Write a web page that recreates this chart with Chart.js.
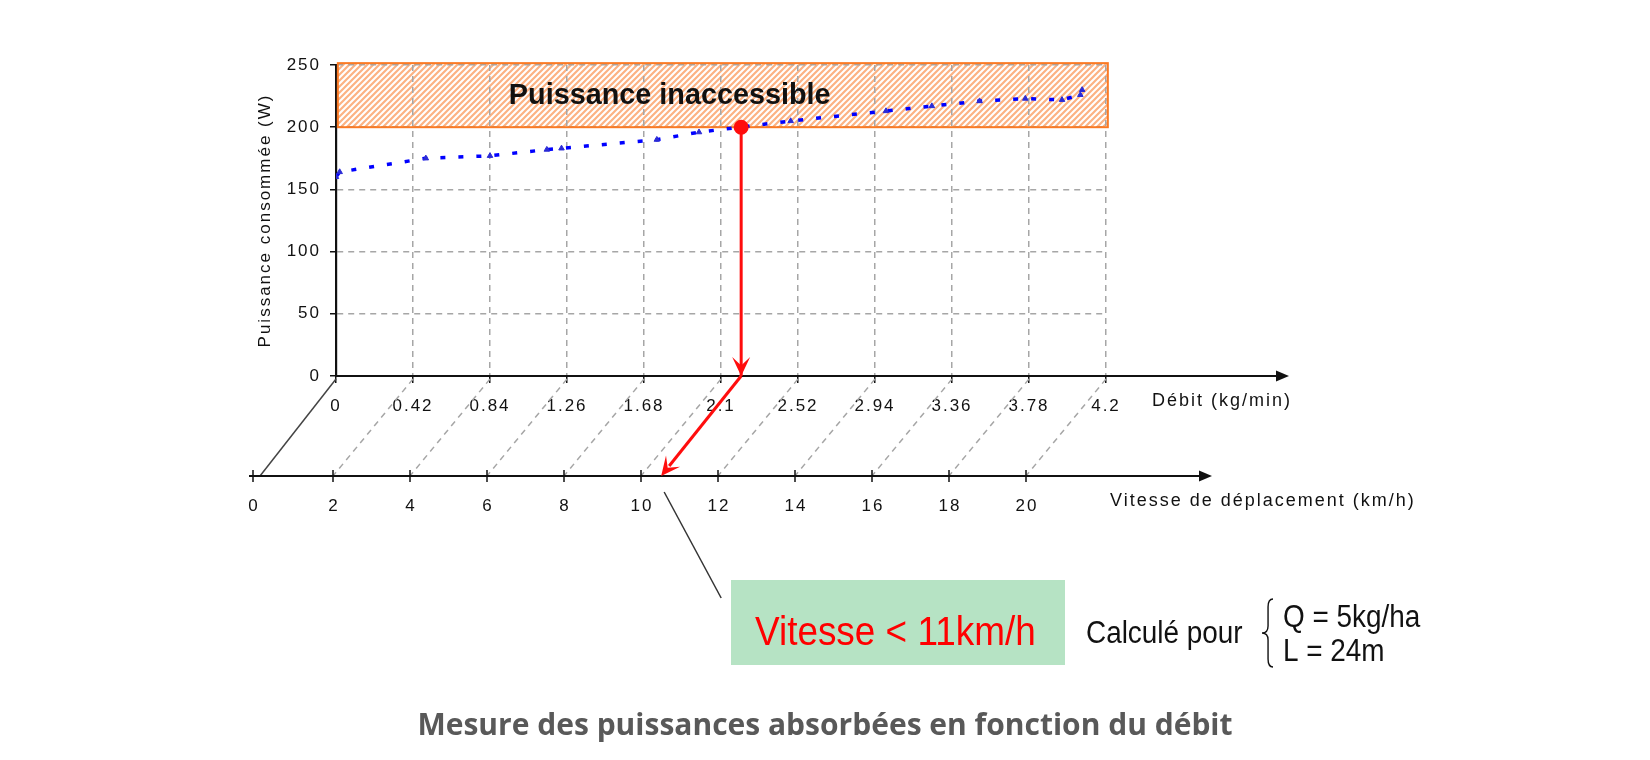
<!DOCTYPE html>
<html lang="fr">
<head>
<meta charset="utf-8">
<title>Mesure des puissances absorbées en fonction du débit</title>
<script src="https://cdn.jsdelivr.net/npm/chart.js@4.4.1/dist/chart.umd.min.js"></script>
<style>
  html, body { margin: 0; padding: 0; background: #fff; }
  #wrap { position: relative; width: 1650px; height: 760px; overflow: hidden; }
  #chart { position: absolute; left: 0; top: 0; }
  #caption { position: absolute; left: 0; top: 703px; width: 1650px; text-align: center;
    font-family: 'Open Sans', sans-serif; font-weight: 700; font-size: 30px; color: #595959; }
</style>
</head>
<body>
<div id="wrap">
  <canvas id="chart" width="1650" height="760"></canvas>
  <div id="caption">Mesure des puissances absorbées en fonction du débit</div>
</div>
<script>
// mesures : debit (kg/min) -> puissance consommee (W)
var debitMesures = [0, 0.02, 0.49, 0.84, 1.15, 1.23, 1.75, 1.98, 2.48, 3.0, 3.25, 3.51, 3.76, 3.96, 4.06, 4.07]
var puissanceMesures = [160, 164, 175, 177, 182, 183, 190, 196, 205, 213, 217, 221, 223, 222, 226, 230]

var debitTicks = [0, 0.42, 0.84, 1.26, 1.68, 2.1, 2.52, 2.94, 3.36, 3.78, 4.2]
var puissanceTicks = [0, 50, 100, 150, 200, 250]
var vitesseTicks = [0, 2, 4, 6, 8, 10, 12, 14, 16, 18, 20]

// zone au dessus de la puissance maxi
var zoneDebit = [0.01, 4.21]
var zonePuissance = [200, 251.5]

// point limite
var seuilDebit = 2.21
var seuilPuissance = 200
var kgMinParKmh = 0.21   // 0.42 kg/min <-> 2 km/h

var police = 'Liberation Sans, Arial, sans-serif'

function hachures(ctx) {
    var c = document.createElement('canvas'), p = 6
    c.width = p; c.height = p
    var g = c.getContext('2d')
    g.strokeStyle = '#fcb283'
    g.lineWidth = 2.2
    g.beginPath()
    g.moveTo(-1, p + 1); g.lineTo(p + 1, -1)
    g.moveTo(-1, 1); g.lineTo(1, -1)
    g.moveTo(p - 1, p + 1); g.lineTo(p + 1, p - 1)
    g.stroke()
    return ctx.createPattern(c, 'repeat')
}

function pointe(ctx, x0, y0, x1, y1, len, half, creux, color) {
    var a = Math.atan2(y1 - y0, x1 - x0)
    ctx.save()
    ctx.translate(x1, y1)
    ctx.rotate(a)
    ctx.fillStyle = color
    ctx.beginPath()
    ctx.moveTo(0, 0)
    ctx.lineTo(-len, -half)
    ctx.lineTo(-len * creux, 0)
    ctx.lineTo(-len, half)
    ctx.closePath()
    ctx.fill()
    ctx.restore()
}

function accolade(ctx, x, y1, y2, w) {
    var ym = (y1 + y2) / 2, m = x + w * 0.55
    ctx.beginPath()
    ctx.moveTo(x + w, y1)
    ctx.quadraticCurveTo(m, y1, m, y1 + 8)
    ctx.lineTo(m, ym - 7)
    ctx.quadraticCurveTo(m, ym, x, ym)
    ctx.quadraticCurveTo(m, ym, m, ym + 7)
    ctx.lineTo(m, y2 - 8)
    ctx.quadraticCurveTo(m, y2, x + w, y2)
    ctx.stroke()
}

// texte un peu serre, comme dans l'original
function texteSerre(ctx, txt, x, y, sx) {
    ctx.save()
    ctx.translate(x, y)
    ctx.scale(sx, 1)
    ctx.fillText(txt, 0, 0)
    ctx.restore()
}

var schema = {
    id: 'schema',
    beforeDraw: function (chart) {
        var ctx = chart.ctx, x = chart.scales.x, y = chart.scales.y
        ctx.letterSpacing = '2px'
        var l = x.getPixelForValue(zoneDebit[0]), r = x.getPixelForValue(zoneDebit[1])
        var t = y.getPixelForValue(zonePuissance[1]), b = y.getPixelForValue(zonePuissance[0])
        ctx.save()
        ctx.fillStyle = hachures(ctx)
        ctx.fillRect(l, t, r - l, b - t)
        ctx.restore()
    },
    beforeDatasetsDraw: function (chart) {
        var ctx = chart.ctx, x = chart.scales.x, y = chart.scales.y
        var l = x.getPixelForValue(zoneDebit[0]), r = x.getPixelForValue(zoneDebit[1])
        var t = y.getPixelForValue(zonePuissance[1]), b = y.getPixelForValue(zonePuissance[0])
        ctx.save()
        ctx.strokeStyle = '#fb7a24'
        ctx.lineWidth = 2
        ctx.strokeRect(l, t, r - l, b - t)
        ctx.letterSpacing = '0px'
        ctx.font = 'bold 30px ' + police
        ctx.fillStyle = '#111'
        ctx.textBaseline = 'middle'
        texteSerre(ctx, 'Puissance inaccessible', l + 171, (t + b) / 2 + 1, 0.96)
        ctx.restore()
    },
    afterDraw: function (chart) {
        var ctx = chart.ctx, x = chart.scales.x, y = chart.scales.y
        var y0 = y.bottom, dx = 80, dy = 100, yv = y0 + dy
        var vPix = function (v) { return x.getPixelForValue(v * kgMinParKmh) - dx }
        ctx.save()
        ctx.letterSpacing = '0px'

        // prolongement de l'axe des debits
        var finD = x.right + 183
        ctx.strokeStyle = '#111'
        ctx.lineWidth = 2
        ctx.beginPath(); ctx.moveTo(x.right, y0); ctx.lineTo(finD - 6, y0); ctx.stroke()
        pointe(ctx, x.right, y0, finD, y0, 13, 5.5, 1, '#111')

        // liaisons debit -> vitesse
        debitTicks.forEach(function (d, i) {
            var px = x.getPixelForValue(d)
            ctx.beginPath()
            if (i === 0) {
                ctx.setLineDash([]); ctx.strokeStyle = '#444'
                ctx.moveTo(px, y0 + 3); ctx.lineTo(px - dx + 4, yv)
            } else {
                ctx.setLineDash([6, 5]); ctx.strokeStyle = '#a6a6a6'
                ctx.moveTo(px, y0 + 3); ctx.lineTo(px - dx, yv)
            }
            ctx.lineWidth = 1.5
            ctx.stroke()
        })
        ctx.setLineDash([])

        // axe des vitesses
        var v0 = vPix(vitesseTicks[0]), vN = vPix(vitesseTicks[vitesseTicks.length - 1])
        var finV = vN + 186
        ctx.strokeStyle = '#111'
        ctx.lineWidth = 2
        ctx.beginPath(); ctx.moveTo(v0 - 7, yv); ctx.lineTo(finV - 6, yv); ctx.stroke()
        pointe(ctx, v0, yv, finV, yv, 13, 5.5, 1, '#111')
        ctx.lineWidth = 1.5
        ctx.font = '17px ' + police
        ctx.fillStyle = '#111'
        ctx.textAlign = 'center'
        ctx.textBaseline = 'middle'
        ctx.letterSpacing = '2px'
        vitesseTicks.forEach(function (v, i) {
            var px = vPix(v) - (i === 0 ? 3 : 0)
            ctx.beginPath(); ctx.moveTo(px, yv - 6); ctx.lineTo(px, yv + 6); ctx.stroke()
            ctx.fillText(String(v), px + 1, yv + 30)
        })

        // titres des axes horizontaux
        ctx.textAlign = 'left'
        ctx.font = '18px ' + police
        ctx.fillText('Débit (kg/min)', x.right + 46, y0 + 25)
        ctx.fillText('Vitesse de déplacement (km/h)', vN + 84, yv + 25)
        ctx.letterSpacing = '0px'

        // fleches rouges
        var sx = x.getPixelForValue(seuilDebit), tx = vPix(seuilDebit / kgMinParKmh)
        pointe(ctx, sx, y.getPixelForValue(seuilPuissance), sx, y0, 19, 9, 0.55, '#ff0d0d')
        ctx.strokeStyle = '#ff0d0d'
        ctx.lineWidth = 3
        ctx.beginPath(); ctx.moveTo(sx, y0); ctx.lineTo(tx + 8, yv - 10); ctx.stroke()
        pointe(ctx, sx, y0, tx, yv, 19, 9, 0.55, '#ff0d0d')

        // renvoi vers le resultat
        ctx.strokeStyle = '#333'
        ctx.lineWidth = 1.5
        ctx.beginPath(); ctx.moveTo(tx + 3, yv + 16); ctx.lineTo(tx + 60, yv + 122); ctx.stroke()

        ctx.fillStyle = '#b6e3c4'
        ctx.fillRect(731, 580, 334, 85)
        ctx.fillStyle = '#ff0000'
        ctx.font = '41px ' + police
        ctx.textBaseline = 'alphabetic'
        texteSerre(ctx, 'Vitesse < 11km/h', 755, 645, 0.9)

        ctx.fillStyle = '#111'
        ctx.font = '31px ' + police
        texteSerre(ctx, 'Calculé pour', 1086, 643, 0.9)
        texteSerre(ctx, 'Q = 5kg/ha', 1283, 627, 0.9)
        texteSerre(ctx, 'L = 24m', 1283, 661, 0.9)
        ctx.strokeStyle = '#111'
        ctx.lineWidth = 1.4
        accolade(ctx, 1262, 599, 667, 11)
        ctx.restore()
    }
}

var tickFont = { family: police, size: 17 }
var grille = { color: '#a6a6a6', lineWidth: 1.5, tickColor: '#111', tickWidth: 1.5 }

var chart = new Chart(document.getElementById('chart'), {
    type: 'scatter',
    data: {
        datasets: [
            {
                label: 'Limite',
                data: [{ x: seuilDebit, y: seuilPuissance }, { x: seuilDebit, y: 0 }],
                showLine: true,
                borderColor: '#ff0d0d',
                backgroundColor: '#ff0d0d',
                borderWidth: 3,
                pointRadius: [6, 0],
                pointHoverRadius: [6, 0]
            },
            {
                label: 'Puissance consommée',
                data: debitMesures.map(function (d, i) { return { x: d, y: puissanceMesures[i] } }),
                showLine: true,
                borderColor: '#0000ff',
                borderWidth: 3.5,
                borderDash: [5, 13],
                pointStyle: 'triangle',
                pointRadius: 3.2,
                pointBorderWidth: 1,
                pointBackgroundColor: '#2b2bd6',
                pointBorderColor: '#2b2bd6'
            }
        ]
    },
    options: {
        responsive: false,
        animation: false,
        devicePixelRatio: 1,
        layout: { padding: { left: 0, top: 65, right: 544, bottom: 0 } },
        plugins: { legend: { display: false }, tooltip: { enabled: false } },
        scales: {
            x: {
                type: 'linear', min: 0, max: 4.2,
                afterBuildTicks: function (s) { s.ticks = debitTicks.map(function (v) { return { value: v } }) },
                afterFit: function (s) { s.height = 384 },
                grid: Object.assign({ tickLength: 7 }, grille),
                border: { color: '#111', width: 2, dash: [6, 5] },
                ticks: {
                    font: tickFont, color: '#111', padding: 13, maxRotation: 0, autoSkip: false,
                    callback: function (v) { return String(v) }
                }
            },
            y: {
                type: 'linear', min: 0, max: 250,
                afterBuildTicks: function (s) { s.ticks = puissanceTicks.map(function (v) { return { value: v } }) },
                afterFit: function (s) { s.width = 336 },
                grid: Object.assign({ tickLength: 6 }, grille),
                border: { color: '#111', width: 2.2, dash: [6, 5] },
                ticks: {
                    font: tickFont, color: '#111', padding: 9,
                    callback: function (v) { return String(v) }
                },
                title: {
                    display: true, text: 'Puissance consommée (W)', color: '#111',
                    font: { family: police, size: 17 }, padding: { top: 255, bottom: 0 }
                }
            }
        }
    },
    plugins: [schema]
})
</script>
</body>
</html>
